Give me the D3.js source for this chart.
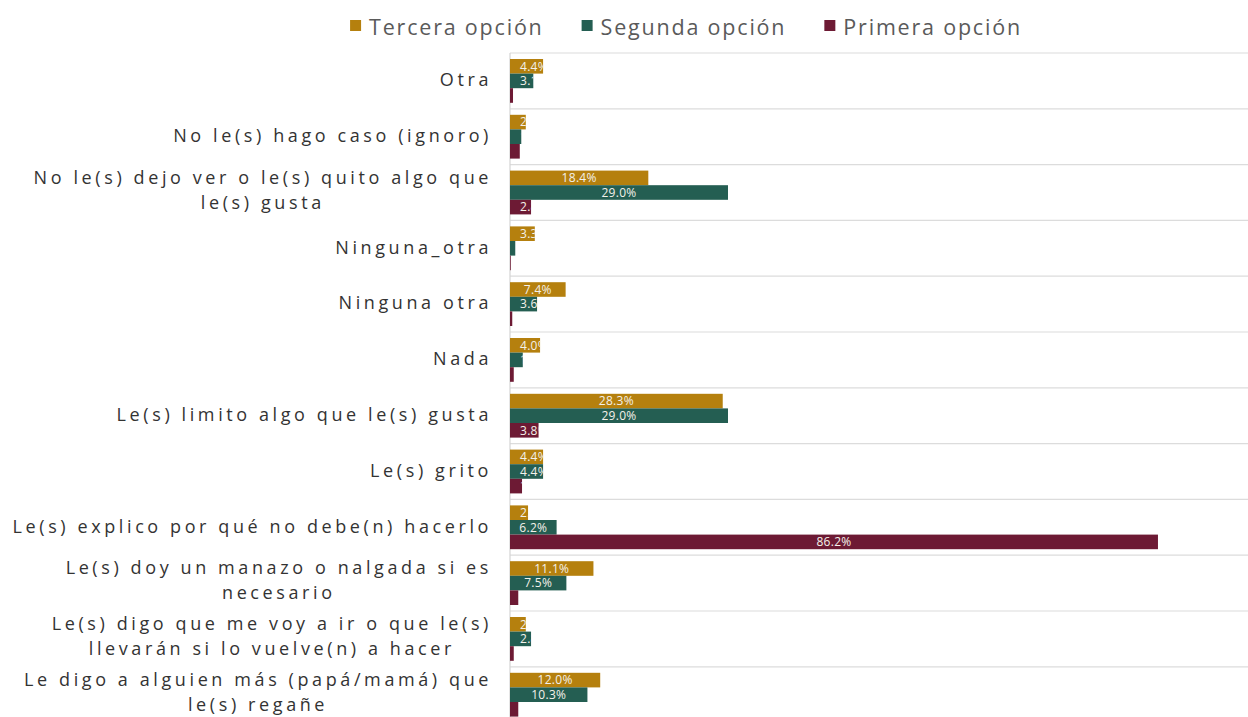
<!DOCTYPE html>
<html>
<head>
<meta charset="utf-8">
<script src="https://cdn.jsdelivr.net/npm/d3@7"></script>
<style>
  body { margin: 0; background: #fff; }
  svg { display: block; font-family: "Open Sans", "Noto Sans", sans-serif; }
</style>
</head>
<body>
<svg id="chart" width="1248" height="717"></svg>
<script>
const categories = [
  'Otra',
  'No le(s) hago caso (ignoro)',
  'No le(s) dejo ver o le(s) quito algo que le(s) gusta',
  'Ninguna_otra',
  'Ninguna otra',
  'Nada',
  'Le(s) limito algo que le(s) gusta',
  'Le(s) grito',
  'Le(s) explico por qué no debe(n) hacerlo',
  'Le(s) doy un manazo o nalgada si es necesario',
  'Le(s) digo que me voy a ir o que le(s) llevarán si lo vuelve(n) a hacer',
  'Le digo a alguien más (papá/mamá) que le(s) regañe'
];

const seriesNames = ['Tercera opción', 'Segunda opción', 'Primera opción'];
const seriesColors = ['#b5800e', '#245e52', '#6d1a34'];

const tercera = [4.4, 2.1, 18.4, 3.3, 7.4, 4.0, 28.3, 4.4, 2.4, 11.1, 2.1, 12.0];
const segunda = [3.1, 1.5, 29.0, 0.7, 3.6, 1.7, 29.0, 4.4, 6.2, 7.5, 2.8, 10.3];
const primera = [0.4, 1.3, 2.8, 0.1, 0.3, 0.5, 3.8, 1.6, 86.2, 1.1, 0.5, 1.1];

const seriesValues = [tercera, segunda, primera];

const width = 1248;
const height = 717;
const plotLeft = 510;
const plotTop = 53;
const bandH = 55.8;

const svg = d3.select('#chart');

const x = d3.scaleLinear().domain([0, 100]).range([plotLeft, plotLeft + 751.7]);
const y = d3.scaleBand()
  .domain(categories)
  .range([plotTop, plotTop + bandH * categories.length]);
const inner = d3.scaleBand()
  .domain(seriesNames)
  .range([6, bandH - 6]);

const fmt = d => d3.format('.1f')(d) + '%';

// separators
const seps = categories.map(c => y(c)).concat([y.range()[1]]);
svg.append('g')
  .selectAll('line')
  .data(seps)
  .join('line')
  .attr('x1', plotLeft)
  .attr('x2', width)
  .attr('y1', d => d)
  .attr('y2', d => d)
  .attr('stroke', '#dcdcdc')
  .attr('stroke-width', 1.2);

svg.append('line')
  .attr('x1', plotLeft).attr('x2', plotLeft)
  .attr('y1', plotTop).attr('y2', y.range()[1])
  .attr('stroke', '#d4d4d4')
  .attr('stroke-width', 1.2);

// bars
const defs = svg.append('defs');
const rows = [];
categories.forEach((c, i) => {
  seriesNames.forEach((s, j) => {
    rows.push({ cat: c, series: s, j, value: seriesValues[j][i], id: `clip-${i}-${j}` });
  });
});

defs.selectAll('clipPath')
  .data(rows)
  .join('clipPath')
  .attr('id', d => d.id)
  .append('rect')
  .attr('x', x(0))
  .attr('y', d => y(d.cat) + inner(d.series))
  .attr('width', d => x(d.value) - x(0))
  .attr('height', inner.bandwidth());

const barG = svg.append('g');
barG.selectAll('rect')
  .data(rows)
  .join('rect')
  .attr('x', x(0))
  .attr('y', d => y(d.cat) + inner(d.series))
  .attr('width', d => x(d.value) - x(0))
  .attr('height', inner.bandwidth())
  .attr('fill', d => seriesColors[d.j]);

const labelG = svg.append('g')
  .style('font-size', '12px')
  .style('letter-spacing', '0.3px');

labelG.selectAll('text')
  .data(rows)
  .join('text')
  .attr('clip-path', d => `url(#${d.id})`)
  .attr('y', d => y(d.cat) + inner(d.series) + inner.bandwidth() / 2)
  .attr('dy', '0.36em')
  .attr('fill', '#f4f1ea')
  .text(d => fmt(d.value))
  .each(function(d) {
    const tw = this.getComputedTextLength();
    const w = x(d.value) - x(0);
    const el = d3.select(this);
    if (tw + 14 <= w) {
      el.attr('x', x(0) + w / 2).attr('text-anchor', 'middle');
    } else {
      el.attr('x', x(0) + 10).attr('text-anchor', 'start');
    }
  });

// category labels with wrapping
const catG = svg.append('g')
  .style('font-size', '18px')
  .style('letter-spacing', '3.6px')
  .attr('fill', '#333');

const maxW = 494;
categories.forEach(c => {
  const t = catG.append('text');
  const words = c.split(' ');
  let lines = [];
  let line = [];
  words.forEach(w => {
    line.push(w);
    t.text(line.join(' '));
    if (t.node().getComputedTextLength() > maxW && line.length > 1) {
      line.pop();
      lines.push(line.join(' '));
      line = [w];
    }
  });
  lines.push(line.join(' '));
  t.text(null);
  const lineH = 25;
  const cy = y(c) + bandH / 2 - (lines.length > 1 ? 2.5 : 1);
  const y0 = cy - (lines.length - 1) * lineH / 2;
  const spans = lines.map((l, k) =>
    t.append('tspan').attr('y', y0 + k * lineH).attr('dy', '0.35em').text(l));
  const widths = spans.map(s => s.node().getComputedTextLength());
  const mw = d3.max(widths);
  t.attr('text-anchor', 'middle');
  spans.forEach(s => s.attr('x', 492 - mw / 2));
});

// legend
const legend = svg.append('g')
  .style('font-size', '21.5px')
  .style('letter-spacing', '1.8px')
  .attr('fill', '#5a5a5a');

let lx = 0;
seriesNames.forEach((s, j) => {
  const g = legend.append('g');
  g.append('rect')
    .attr('x', 0).attr('y', 20)
    .attr('width', 11).attr('height', 11)
    .attr('fill', seriesColors[j]);
  const t = g.append('text')
    .attr('x', 19).attr('y', 27).attr('dy', '0.35em')
    .text(s);
  const w = 19 + t.node().getComputedTextLength();
  g.attr('transform', `translate(${lx},0)`);
  lx += w + 38;
});
const total = lx - 38;
legend.attr('transform', `translate(${686 - total / 2},0)`);
</script>
</body>
</html>
